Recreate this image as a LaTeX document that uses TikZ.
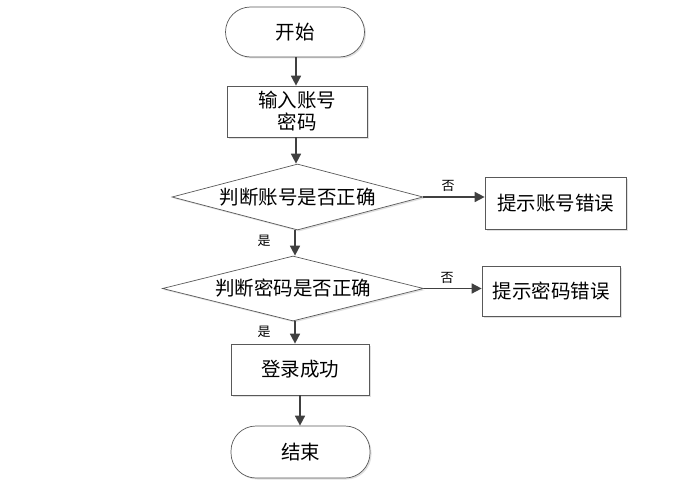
\documentclass[tikz,border=0pt]{standalone}
\usepackage{fontspec}
\setmainfont{Noto Sans CJK SC}
\usetikzlibrary{shapes.geometric,arrows.meta,shadows}
\begin{document}
\begin{tikzpicture}[x=1pt,y=-1pt,
  shp/.style={draw=black!65, line width=0.7pt, fill=white, font=\fontsize{19.5}{22}\selectfont, inner sep=0pt,
    drop shadow={shadow xshift=1.5pt, shadow yshift=-1.5pt, fill=black!12, opacity=1}},
  term/.style={shp, rectangle, rounded corners=25pt},
  proc/.style={shp, rectangle, align=center},
  dec/.style={shp, diamond, aspect=3.8},
  arr/.style={draw=black!75, line width=1.6pt, -{Triangle[length=10pt,width=10pt]}},
  lbl/.style={font=\fontsize{13}{15}\selectfont, inner sep=0pt}]
\useasboundingbox (0,0) rectangle (677,503);
\node[term, minimum width=139pt, minimum height=50pt] (start) at (295,32) {开始};
\node[proc, minimum width=140pt, minimum height=51pt] (input) at (297,111.5) {输入账号\\密码};
\node[dec, minimum width=251pt, minimum height=66pt] (d1) at (297.5,197) {判断账号是否正确};
\node[proc, minimum width=141pt, minimum height=52pt] (e1) at (555.5,203) {提示账号错误};
\node[dec, minimum width=261pt, minimum height=65pt] (d2) at (293,288.5) {判断密码是否正确};
\node[proc, minimum width=138pt, minimum height=50pt] (e2) at (551,291) {提示密码错误};
\node[proc, minimum width=138pt, minimum height=51pt] (ok) at (300,369.5) {登录成功};
\node[term, minimum width=139pt, minimum height=52pt] (end) at (300.5,452) {结束};

\draw[arr] (start.south -| 296,0) -- (input.north -| 296,0);
\draw[arr] (input.south -| 296,0) -- (d1.north -| 296,0);
\draw[arr] (d1.south -| 295,0) -- (d2.north -| 295,0);
\draw[arr] (d2.south -| 295,0) -- (ok.north -| 295,0);
\draw[arr] (ok.south -| 300,0) -- (end.north -| 300,0);
\draw[arr] (d1.east) -- (d1.east -| e1.west);
\draw[arr] (d2.east) -- (d2.east -| e2.west);

\node[lbl] (n1) at (448,186) {否};
\node[lbl] (n2) at (447,278) {否};
\node[lbl] (y1) at (264,241) {是};
\node[lbl] (y2) at (264,332) {是};
\end{tikzpicture}
\end{document}
